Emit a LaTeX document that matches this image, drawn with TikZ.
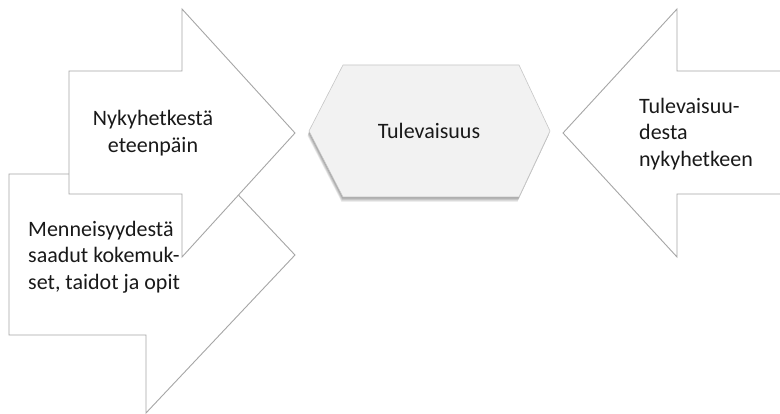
\documentclass[tikz,border=0pt]{standalone}
\usepackage{fontspec}
\setmainfont{Carlito}
\begin{document}
\begin{tikzpicture}[x=1pt,y=-1pt,
  arrowshape/.style={draw=black!35,fill=white,line width=0.9pt,line join=miter},
  label/.style={inner sep=0pt,text=black!90,font=\fontsize{22}{26.3}\selectfont},
  hexfill/.style={fill=black!5,draw=black!22,line width=0.6pt}]
\clip (0,0) rectangle (780,414);
\fill[white] (0,0) rectangle (780,414);

% back arrow: experiences from the past
\path[arrowshape] (9,174) -- (146,174) -- (146,97) -- (295,255) -- (146,413)
  -- (146,335) -- (9,335) -- cycle;
% front arrow: from now onwards
\path[arrowshape] (69,71) -- (182,71) -- (182,9) -- (295,133) -- (182,257)
  -- (182,194) -- (69,194) -- cycle;
% arrow coming back from the future
\path[arrowshape] (563,133) -- (677,9) -- (677,71) -- (800,71) -- (800,194)
  -- (677,194) -- (677,257) -- cycle;

% soft shadow under the hexagon
\foreach \d in {1,...,6}{
  \fill[black,opacity=0.07]
    ([shift={(-0.25*\d,0.8*\d)}]309,131) -- ([shift={(-0.25*\d,0.8*\d)}]343,65)
    -- ([shift={(-0.25*\d,0.8*\d)}]519,65) -- ([shift={(-0.25*\d,0.8*\d)}]550,131)
    -- ([shift={(-0.25*\d,0.8*\d)}]519,197) -- ([shift={(-0.25*\d,0.8*\d)}]343,197) -- cycle;
}
% the future
\path[hexfill] (309,131) -- (343,65) -- (519,65) -- (550,131) -- (519,197)
  -- (343,197) -- cycle;

\node[label,align=center] (now) at (153,133) {Nykyhetkestä\\eteenpäin};
\node[label,align=left,anchor=west] (past) at (28,257)
  {Menneisyydestä\\saadut kokemuk-\\set, taidot ja opit};
\node[label,align=left,anchor=west] (back) at (639,134)
  {Tulevaisuu-\\desta\\nykyhetkeen};
\node[label] (future) at (429,131) {Tulevaisuus};
\end{tikzpicture}
\end{document}
